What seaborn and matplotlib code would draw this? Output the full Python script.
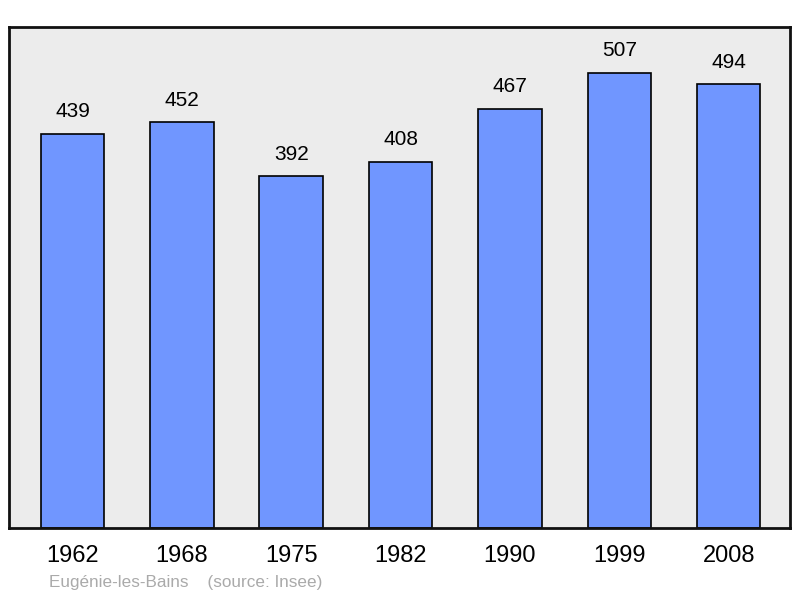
#Population bar chart

import seaborn as sns
import matplotlib.pyplot as plt

years = ["1962", "1968", "1975", "1982", "1990", "1999", "2008"]
population = [439, 452, 392, 408, 467, 507, 494]

sns.set_style("white")
plt.rcParams['font.family'] = ['Liberation Sans', 'DejaVu Sans']
plt.rcParams['text.color'] = "black"
plt.rcParams['xtick.color'] = "black"

fig = plt.figure(figsize=(8, 5.98), dpi=100)
ax = fig.add_axes([0.01125, 0.117, 0.97625, 0.8378])
ax.set_facecolor("#ececec")

sns.barplot(x=years, y=population, color="#7096ff", saturation=1,
            width=0.58, edgecolor="black", linewidth=1.2, ax=ax)

#Value labels above bars
for i, v in enumerate(population):
    ax.annotate(str(v), (i, v), xytext=(0, 9), textcoords="offset points",
                ha="center", va="bottom", fontsize=15, color="black")

ax.set_xlim(-0.58, 6.56)
ax.set_ylim(0, 558)
ax.set_yticks([])
ax.tick_params(axis="x", length=0, pad=12, labelsize=17, labelcolor="black")
for s in ax.spines.values():
    s.set_linewidth(2)
    s.set_color("#111111")

fig.text(49 / 800, 1 - 583 / 598, "Eugénie-les-Bains    (source: Insee)",
         color="#aaaaaa", fontsize=12.3, va="center", ha="left")

plt.savefig("out.png", dpi=100)
